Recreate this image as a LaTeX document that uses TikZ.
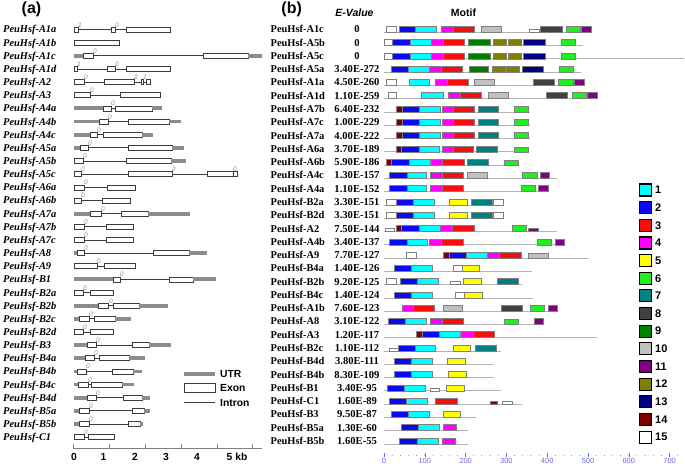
\documentclass[tikz,border=0pt]{standalone}
\usepackage{fontspec}
\setmainfont{Liberation Serif}
\setsansfont{Liberation Sans}
\usepackage{tikz}
\usetikzlibrary{positioning}
\definecolor{utrgray}{HTML}{8C8C8C}
\definecolor{introngray}{HTML}{3C3C3C}
\definecolor{protgray}{HTML}{B4B4B4}
\definecolor{axisblue}{HTML}{6B6BE8}
\definecolor{m1}{HTML}{00FFFF}
\definecolor{m2}{HTML}{0A0AF0}
\definecolor{m3}{HTML}{F51010}
\definecolor{m4}{HTML}{FF00FF}
\definecolor{m5}{HTML}{FFFF00}
\definecolor{m6}{HTML}{22EE22}
\definecolor{m7}{HTML}{008080}
\definecolor{m8}{HTML}{404040}
\definecolor{m9}{HTML}{008000}
\definecolor{m10}{HTML}{C0C0C0}
\definecolor{m11}{HTML}{800080}
\definecolor{m12}{HTML}{808000}
\definecolor{m13}{HTML}{000080}
\definecolor{m14}{HTML}{800000}
\definecolor{m15}{HTML}{FFFFFF}

% gene segments: utr, exon, intron, phase
\newcommand{\segu}[3]{\fill[utr] (#1,#3-1.9) rectangle (#2,#3+1.9);}
\newcommand{\sege}[3]{\draw[exon] (#1,#3-2.5) rectangle (#2,#3+2.5);}
\newcommand{\segi}[3]{\draw[intr] (#1,#3) -- (#2,#3);}
\newcommand{\segp}[3]{\node[phase] (ph\r-#1) at (#1,#3-2.2) {#2};}

\begin{document}
\begin{tikzpicture}[
  x=1pt, y=-1pt,
  head/.style={font=\fontsize{16}{18}\selectfont\sffamily\bfseries, inner sep=0},
  hcol/.style={font=\fontsize{10.5}{12}\selectfont\sffamily\bfseries, inner sep=0},
  gname/.style={anchor=base west, inner sep=0, font=\fontsize{10.4}{12}\selectfont\bfseries\itshape},
  pname/.style={anchor=base west, inner sep=0, font=\fontsize{10.4}{12}\selectfont\bfseries},
  evalue/.style={anchor=base, inner sep=0, font=\fontsize{10.6}{12}\selectfont\bfseries},
  utr/.style={utrgray},
  exon/.style={draw=introngray, fill=white, line width=0.6pt},
  intr/.style={draw=introngray, line width=0.8pt},
  phase/.style={anchor=south west, inner sep=0, text=utrgray, font=\fontsize{6.5}{7}\selectfont\sffamily\itshape},
  legtext/.style={anchor=west, inner sep=0, font=\fontsize{10.3}{12}\selectfont\sffamily\bfseries},
  protein/.style={draw=protgray, line width=0.8pt},
  mbox/.style={draw=gray, line width=0.5pt},
  legsq/.style={draw=black, line width=1.1pt},
  kbaxis/.style={draw=gray, line width=0.6pt},
  axb/.style={axisblue}
]
\useasboundingbox (0,0) rectangle (685,468);

\node[head] (ha) at (31.5,9.7) {(a)};
\node[head] (hb) at (291.7,9.7) {(b)};
\node[hcol] (hev) at (354.5,13) {\textit{E-Value}};
\node[hcol] (hmo) at (463.5,13) {Motif};

% (a) gene structures
\foreach \g/\segs [count=\r] in {
  A1a/{e/74/78,i/78/111,e/111/115,i/115/126,e/126/170,p/78/1,p/115/0},
  A1b/{e/74/119},
  A1c/{u/74/83,e/83/93,i/93/203,e/203/248,u/248/262,p/93/0},
  A1d/{e/74/77,i/77/107,e/107/115,i/115/126,e/126/170,p/77/1,p/115/0},
  A2/{e/74/84,i/84/104,e/104/134,i/134/141,e/141/143,i/143/146,e/146/150,p/84/0,p/134/2,p/143/1},
  A3/{e/74/90,i/90/120,e/120/160,p/90/0},
  A4a/{u/74/103,e/103/111,i/111/115,e/115/152,u/152/162,p/111/0},
  A4b/{u/74/99,e/99/108,i/108/128,e/128/169,u/169/181,p/108/0},
  A4c/{u/74/90,e/90/97,i/97/103,e/103/142,u/142/153,p/97/0},
  A5a/{u/74/80,e/80/88,i/88/128,e/128/172,u/172/184,p/88/0},
  A5b/{e/74/83,i/83/126,e/126/171,u/171/186,p/83/0},
  A5c/{e/74/81,i/81/128,e/128/172,i/172/207,e/207/233,e/233/237,p/81/0,p/172/2,p/233/0},
  A6a/{e/74/84,i/84/107,e/107/135,p/84/0},
  A6b/{e/74/81,i/81/102,e/102/130,p/81/0},
  A7a/{u/74/90,e/90/101,i/101/121,e/121/148,u/148/190,p/101/0},
  A7b/{e/74/84,i/84/106,e/106/133,p/84/0},
  A7c/{e/74/84,i/84/106,e/106/133,p/84/0},
  A8/{u/74/77,e/77/84,i/84/153,e/153/189,u/189/207,p/84/0},
  A9/{e/74/97,i/97/104,e/104/135,p/97/0},
  B1/{u/74/113,e/113/120,i/120/169,e/169/193,u/193/216,p/120/0},
  B2a/{e/74/83,i/83/90,e/90/113,p/83/0},
  B2b/{u/74/98,e/98/108,i/108/113,e/113/139,u/139/168,p/109/0},
  B2c/{u/74/79,e/79/89,i/89/94,e/94/115,u/115/131,p/89/0},
  B2d/{e/74/83,i/83/90,e/90/113,p/83/0},
  B3/{u/74/87,e/87/96,i/96/132,e/132/149,u/149/171,p/96/0},
  B4a/{u/74/85,e/85/94,i/94/99,e/99/129,u/129/145,p/94/0},
  B4b/{u/74/77,e/77/86,i/86/112,e/112/133,u/133/142,p/86/0},
  B4c/{u/74/78,e/78/88,i/88/91,e/91/122,u/122/134,p/88/0},
  B4d/{u/74/87,e/87/96,i/96/123,e/123/142,u/142/150,p/96/0},
  B5a/{u/74/79,e/79/89,i/89/132,e/132/144,u/144/150,p/89/0},
  B5b/{u/74/79,e/79/89,i/89/128,e/128/140,u/140/143,p/89/0},
  C1/{e/74/84,i/84/88,e/88/114,p/84/0}}{
  \pgfmathsetmacro\y{29.5+(\r-1)*13.15}
  \node[gname] (ga\r) at (3,\y+3.5) {PeuHsf-\g};
  \foreach \t/\a/\b in \segs {\csname seg\t\endcsname{\a}{\b}{\y}}
}

% (a) legend and kb scale
\fill[utr] (184,372.2) rectangle (215,375.8);
\node[legtext] (lutr) at (220,374) {UTR};
\draw[exon] (184,383) rectangle (215.5,392);
\node[legtext] (lexon) at (220,388) {Exon};
\draw[intr] (184,402.5) -- (215,402.5);
\node[legtext] (lintr) at (220,403) {Intron};

\draw[kbaxis] (73.3,448.3) -- (261.7,448.3);
\foreach \x in {73.3,109.3,145.7,181.7,217.3,252.7}
  \draw[kbaxis] (\x,448.3) -- (\x,444.3);
\foreach \x/\t in {74/0,103.5/1,135/2,166/3,197/4}
  \node[hcol, font=\fontsize{10.3}{12}\selectfont\sffamily\bfseries] (kb\t) at (\x,457.3) {\t};
\node[hcol, font=\fontsize{10.3}{12}\selectfont\sffamily\bfseries] (kb5) at (237,457.3) {5 kb};

% (b) motifs
\foreach \g/\ev/\len/\bx [count=\r] in {
  A1c/0/591/{15/386/396/6,2/399/415/6,1/415/436/6,4/441/453/6,3/453/474/6,10/481/501/6,15/529/539/3,8/540/562/6,6/566/580/6,11/581/591/6},
  A5b/0/583/{15/384/392/6,2/392/410/6,1/410/431/6,4/431/443/6,3/443/464/6,9/468/490/6,12/493/506/6,12/508/521/6,13/523/545/6,6/561/575/6},
  A5c/0/684/{15/384/392/6,2/392/410/6,1/410/431/6,4/431/443/6,3/443/464/6,9/468/490/6,12/493/506/6,12/508/521/6,13/523/545/6,6/561/575/6},
  A5a/3.40E-272/581/{2/391/408/6,1/408/429/6,4/429/441/6,3/441/462/6,9/469/488/6,12/492/505/6,12/506/519/6,13/522/543/6,6/559/573/6},
  A1a/4.50E-260/584/{15/386/396/6,1/409/429/6,4/435/447/6,3/447/468/6,10/474/494/6,8/533/554/6,6/558/573/6,11/574/584/6},
  A1d/1.10E-259/597/{15/388/396/6,1/421/443/6,4/448/460/6,3/460/481/6,10/488/508/6,8/546/567/6,6/572/586/6,11/587/597/6},
  A7b/6.40E-232/530/{14/396/402/6,2/402/419/6,1/419/440/6,4/442/453/6,3/453/474/6,7/478/498/6,6/514/528/6},
  A7c/1.00E-229/530/{14/396/402/6,2/402/419/6,1/419/440/6,4/442/453/6,3/453/474/6,7/478/498/6,6/514/528/6},
  A7a/4.00E-222/530/{14/396/402/6,2/402/419/6,1/419/440/6,4/442/453/6,3/453/474/6,7/478/498/6,6/514/528/6},
  A6a/3.70E-189/529/{14/396/401/6,2/401/419/6,1/419/439/6,4/442/453/6,3/453/473/6,7/476/497/6,6/514/528/5},
  A6b/5.90E-186/518/{14/386/391/6,2/391/409/6,1/409/430/6,4/431/442/6,3/442/464/6,7/467/488/6,6/504/518/5},
  A4c/1.30E-157/557/{2/389/407/6,1/407/426/6,4/430/442/6,3/442/463/6,10/467/487/6,6/522/537/6,11/540/549/6},
  A4a/1.10E-152/548/{2/389/407/6,1/407/426/6,4/430/442/6,3/442/463/6,6/521/535/6,11/538/548/6},
  B2a/3.30E-151/503/{15/386/396/6,2/396/413/6,1/413/434/6,5/449/467/6,7/471/492/6,15/493/503/6},
  B2d/3.30E-151/503/{15/386/396/6,2/396/413/6,1/413/434/6,5/449/467/6,7/471/492/6,15/493/503/6},
  A2/7.50E-144/557/{15/385/394/3,14/396/401/6,2/401/419/6,1/419/440/6,4/440/452/6,3/452/474/6,6/512/526/6,11/528/538/3},
  A4b/3.40E-137/564/{2/389/407/6,1/407/427/6,4/429/441/6,3/441/463/6,6/537/551/6,11/555/564/6},
  A9/7.70E-127/588/{15/406/416/6,14/443/449/6,2/449/466/6,1/466/487/6,4/487/499/6,3/499/521/6,10/528/548/5},
  B4a/1.40E-126/532/{2/394/411/6,1/411/432/6,15/453/462/6,5/462/479/6},
  B2b/9.20E-125/522/{15/386/396/6,2/400/417/6,1/417/438/6,15/450/460/3,5/463/481/6,7/497/518/6},
  B4c/1.40E-124/533/{2/394/411/6,1/411/432/6,15/455/464/6,5/464/482/6},
  A1b/7.60E-123/557/{4/402/413/6,3/413/434/6,10/443/462/6,8/501/522/6,6/530/544/6,11/548/557/6},
  A8/3.10E-122/543/{2/388/405/6,1/405/426/6,4/430/442/6,3/442/463/6,6/504/518/5,11/534/543/6},
  A3/1.20E-117/597/{14/416/422/6,2/422/439/6,1/439/460/6,4/461/473/6,3/473/494/6},
  B2c/1.10E-112/501/{15/389/398/3,2/398/415/6,1/415/435/6,5/453/470/6,7/475/496/6},
  B4d/3.80E-111/494/{2/394/411/6,1/411/432/6,5/447/465/6},
  B4b/8.30E-109/494/{2/394/411/6,1/411/432/6,5/448/466/6},
  B1/3.40E-95/501/{2/387/404/6,1/404/425/6,15/430/439/3,5/446/464/6},
  C1/1.60E-89/522/{2/389/406/6,1/406/427/6,3/435/457/6,14/490/497/3,15/502/512/3},
  B3/9.50E-87/476/{2/391/408/6,1/408/429/6,5/443/460/6},
  B5a/1.30E-60/468/{2/401/418/6,1/418/439/6,4/443/456/6},
  B5b/1.60E-55/468/{2/399/417/6,1/417/438/6,4/442/455/6}}{
  \pgfmathsetmacro\y{29.3+(\r-1)*13.28}
  \node[pname] (gb\r) at (270.5,\y+3.5) {PeuHsf-\g};
  \node[evalue] (ev\r) at (357,\y+3.5) {\ev};
  \draw[protein] (384,\y+3) -- (\len,\y+3);
  \foreach \m/\a/\b/\h in \bx
    \draw[mbox, fill=m\m] (\a,\y+3) rectangle (\b,\y+3-\h);
}

% (b) legend
\foreach \k in {1,...,15}{
  \pgfmathsetmacro\y{190+(\k-1)*17.65}
  \draw[legsq, fill=m\k] (639.5,\y-6) rectangle (651.5,\y+6);
  \node[legtext, font=\fontsize{11}{12}\selectfont\sffamily\bfseries] (lg\k) at (655,\y) {\k};
}

% (b) aa scale
\foreach \v in {0,20,...,720}
  \fill[axb] (384+\v*0.408,455.5) circle (0.45);
\foreach \v in {0,100,...,700}{
  \draw[axb, line width=0.6pt] (384+\v*0.408,453.3) -- (384+\v*0.408,456.7);
  \node[text=axisblue, inner sep=0, font=\fontsize{7.5}{9}\selectfont\sffamily] (aa\v) at (384+\v*0.408,461.3) {\v};
}
\end{tikzpicture}
\end{document}
